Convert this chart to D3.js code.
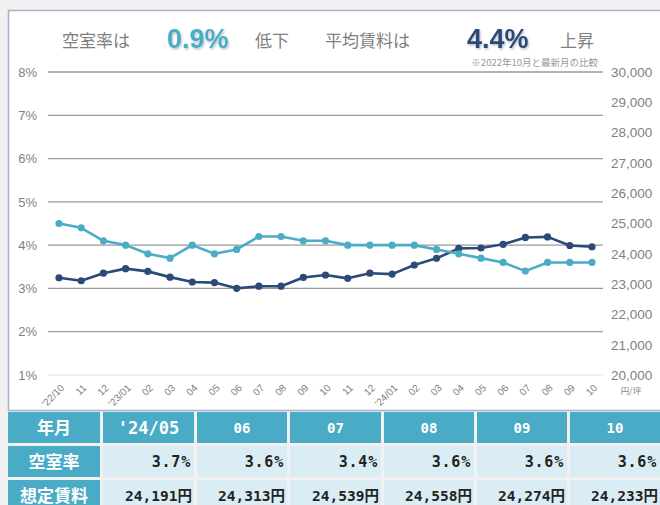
<!DOCTYPE html>
<html><head><meta charset="utf-8">
<script src="https://cdn.jsdelivr.net/npm/d3@7"></script>
<style>
html,body{margin:0;padding:0;background:#f1f1f1;}
svg{display:block;font-family:"Liberation Sans",Arial,sans-serif;}
</style></head>
<body><svg id="c" width="660" height="505"></svg>
<script>
const months = ["'22/10","11","12","'23/01","02","03","04","05","06","07","08","09","10","11","12","'24/01","02","03","04","05","06","07","08","09","10"];
const vacancy = [4.5,4.4,4.1,4.0,3.8,3.7,4.0,3.8,3.9,4.2,4.2,4.1,4.1,4.0,4.0,4.0,4.0,3.9,3.8,3.7,3.6,3.4,3.6,3.6,3.6];
const rent = [23210,23110,23360,23510,23420,23230,23070,23050,22860,22930,22930,23220,23300,23190,23360,23330,23630,23850,24180,24191,24313,24539,24558,24274,24233];
const leftTicks = [1,2,3,4,5,6,7,8];
const rightTicks = [20000,21000,22000,23000,24000,25000,26000,27000,28000,29000,30000];
const tableMonths = ["'24/05","06","07","08","09","10"];
const tableVacancy = ["3.7%","3.6%","3.4%","3.6%","3.6%","3.6%"];
const tableRent = ["24,191円","24,313円","24,539円","24,558円","24,274円","24,233円"];
const rowHeads = ["年月","空室率","想定賃料"];

const svg = d3.select("#c");
const teal = "#4bacc6", navy = "#2c4a78", gray = "#7f7f7f";

const defs = svg.append("defs");
const f = defs.append("filter").attr("id","sh").attr("x","-10%").attr("y","-10%").attr("width","130%").attr("height","140%");
f.append("feDropShadow").attr("dx",1).attr("dy",1.5).attr("stdDeviation",1).attr("flood-color","#000").attr("flood-opacity",0.25);

// panel
svg.append("rect").attr("x",8.5).attr("y",10.5).attr("width",660).attr("height",400)
  .attr("fill","#fff").attr("stroke","#a3b3c9").attr("stroke-width",1.5);

// header
const parts = [
  {t:"空室率は",x:62,s:17,c:gray},
  {t:"0.9%",x:167,s:27,c:teal},
  {t:"低下",x:255,s:17,c:gray},
  {t:"平均賃料は",x:325,s:17,c:gray},
  {t:"4.4%",x:467,s:27,c:navy},
  {t:"上昇",x:560,s:17,c:gray}];
parts.forEach(p=>{
  svg.append("text").attr("x",p.x).attr("y",p.s>20?48:47).attr("font-size",p.s).attr("fill",p.c)
   .attr("filter",p.s>20?"url(#sh)":null).attr("font-weight",p.s>20?"600":"normal")
   .attr("font-family",p.s>20?"'Liberation Sans',Arial":"'Noto Sans CJK JP',sans-serif")
   .text(p.t);
});
svg.append("text").attr("x",598).attr("y",66).attr("text-anchor","end").attr("font-size",9.5)
  .attr("fill","#999").attr("font-family","'Noto Sans CJK JP',sans-serif").text("※2022年10月と最新月の比較");

const x = d3.scalePoint().domain(d3.range(months.length)).range([59,592]);
const yL = d3.scaleLinear().domain([1,8]).range([375,72]);
const yR = d3.scaleLinear().domain([20000,30000]).range([375,72]);

// gridlines
svg.append("g").selectAll("line").data(leftTicks).join("line")
  .attr("x1",48).attr("x2",603).attr("y1",d=>yL(d)).attr("y2",d=>yL(d))
  .attr("stroke",d=>d===1?"#eeeeee":"#9a9a9a").attr("stroke-width",1.3);

// left axis
const gl = svg.append("g").attr("transform","translate(37,0)")
  .call(d3.axisLeft(yL).tickValues(leftTicks).tickSize(0).tickPadding(0).tickFormat(d=>d+"%"));
gl.select(".domain").remove();
gl.selectAll("text").attr("font-size",13).attr("fill",gray).attr("font-family","'Liberation Sans',Arial");

// right axis
const gr = svg.append("g").attr("transform","translate(611,0)")
  .call(d3.axisRight(yR).tickValues(rightTicks).tickSize(0).tickPadding(0).tickFormat(d3.format(",")));
gr.select(".domain").remove();
gr.selectAll("text").attr("font-size",13.5).attr("fill",gray).attr("font-family","'Liberation Sans',Arial");
svg.append("text").attr("x",631).attr("y",394).attr("text-anchor","middle").attr("font-size",8.5)
  .attr("fill",gray).attr("font-family","'Noto Sans CJK JP',sans-serif").text("円/坪");

// x axis labels
const gx = svg.append("g").attr("transform","translate(0,384)")
  .call(d3.axisBottom(x).tickSize(0).tickPadding(0).tickFormat(i=>months[i]));
gx.select(".domain").remove();
gx.selectAll("text").attr("font-size",10).attr("fill",gray).attr("text-anchor","end")
  .attr("dy","0.35em").attr("transform","translate(3,2) rotate(-45)");

// lines
function series(vals, y, col){
  svg.append("path").datum(vals).attr("fill","none").attr("stroke",col).attr("stroke-width",2.6)
    .attr("stroke-linejoin","round").attr("d",d3.line().x((d,i)=>x(i)).y(d=>y(d)));
  svg.append("g").selectAll("circle").data(vals).join("circle")
    .attr("cx",(d,i)=>x(i)).attr("cy",d=>y(d)).attr("r",3.6).attr("fill",col);
}
series(rent, yR, navy);
series(vacancy, yL, teal);

// table
const colX = [8,103,197,290,384,477,570,663];
const rowY = [412,446,480,514];
const tg = svg.append("g");
for(let r=0;r<3;r++){
  for(let c=0;c<7;c++){
    const isHead = r===0 || c===0;
    tg.append("rect").attr("x",colX[c]).attr("y",rowY[r]).attr("width",colX[c+1]-colX[c]-3)
      .attr("height",rowY[r+1]-rowY[r]-3).attr("fill",isHead?"#4aabc6":"#dbedf4");
    let t, anchor="middle", tx=(colX[c]+colX[c+1]-3)/2, size=15, fill="#fff", ls=0;
    if(c===0){ t=rowHeads[r]; size=17; }
    else if(r===0){ t=tableMonths[c-1]; size = c===1?17:14; }
    else if(r===1){ t=tableVacancy[c-1]; anchor="end"; tx=colX[c+1]-6; fill="#222"; size=15; ls=0.8; }
    else { t=tableRent[c-1]; anchor="end"; tx=colX[c+1]-5; fill="#222"; size=14.5; }
    tg.append("text").attr("x",tx).attr("y",(rowY[r]+rowY[r+1]-3)/2).attr("dy","0.36em")
      .attr("text-anchor",anchor).attr("font-size",size).attr("font-weight","bold").attr("fill",fill)
      .attr("letter-spacing",ls)
      .attr("font-family", c===0?"'Noto Sans CJK JP',sans-serif":"'DejaVu Sans Mono','Noto Sans CJK JP',monospace")
      .text(t);
  }
}
</script></body></html>
